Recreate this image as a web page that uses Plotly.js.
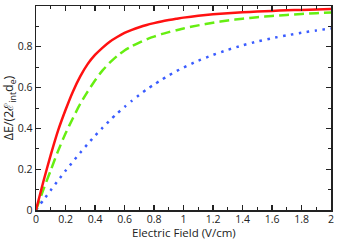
<!DOCTYPE html>
<html><head><meta charset="utf-8">
<script src="https://cdn.plot.ly/plotly-3.0.1.min.js"></script>
<style>html,body{margin:0;padding:0;background:#fff;}#chart{width:337px;height:241px;}</style>
</head><body><div id="chart"></div>
<script>
const fieldX = [0,0.05,0.1,0.15,0.2,0.25,0.3,0.35,0.4,0.45,0.5,0.55,0.6,0.65,0.7,0.75,0.8,0.85,0.9,0.95,1.0,1.1,1.2,1.3,1.4,1.5,1.6,1.7,1.8,1.9,2.0];
const redY   = [0,0.14,0.27,0.39,0.49,0.58,0.655,0.715,0.76,0.795,0.825,0.848,0.868,0.883,0.896,0.907,0.916,0.924,0.931,0.937,0.943,0.952,0.959,0.965,0.969,0.973,0.976,0.979,0.981,0.983,0.985];
const greenY = [0,0.10,0.195,0.29,0.375,0.45,0.52,0.58,0.635,0.683,0.722,0.755,0.782,0.803,0.821,0.837,0.85,0.862,0.872,0.881,0.89,0.905,0.918,0.929,0.938,0.945,0.951,0.956,0.961,0.965,0.968];
const blueY  = [0,0.049,0.097,0.145,0.192,0.237,0.281,0.323,0.364,0.402,0.439,0.473,0.505,0.536,0.564,0.591,0.615,0.638,0.66,0.68,0.698,0.732,0.76,0.785,0.807,0.826,0.842,0.856,0.869,0.88,0.89];
const xTitle = 'Electric Field (V/cm)';
const yTitle = 'ΔE/(2ℰ<sub>int</sub>d<sub>e</sub>)';

const fontFam = 'Open Sans, Liberation Sans, sans-serif';
const traces = [
  {x: fieldX, y: blueY, mode:'lines', line:{color:'#3a5cff', width:2.5, dash:'2.5px,5.5px', shape:'spline', smoothing:0.6}},
  {x: fieldX, y: greenY, mode:'lines', line:{color:'#66ee11', width:2.5, dash:'10px,5px', shape:'spline', smoothing:0.6}},
  {x: fieldX, y: redY, mode:'lines', line:{color:'#ff1111', width:2.5, shape:'spline', smoothing:0.6}},
  {x: [], y: [], xaxis:'x2', yaxis:'y2', mode:'lines'}
];
const axisCommon = {
  showgrid:false, zeroline:false, showline:true, linecolor:'#222', linewidth:1.5,
  ticks:'inside', ticklen:5, tickwidth:1.2, tickcolor:'#222',
  tickfont:{family:fontFam, size:10.5, color:'#222'},
  minor:{dtick:0.1, ticks:'inside', ticklen:3, tickwidth:1, tickcolor:'#222'}
};
const layout = {
  width:337, height:241, showlegend:false,
  margin:{l:36, r:6, t:6, b:31},
  paper_bgcolor:'#fff', plot_bgcolor:'#fff',
  xaxis: Object.assign({}, axisCommon, {range:[0,2], dtick:0.2, tick0:0, ticklabelstandoff:-1}),
  yaxis: Object.assign({}, axisCommon, {range:[0,1], dtick:0.2, tick0:0,
    title:{text:yTitle, standoff:3, font:{family:fontFam, size:12.5, color:'#222'}}}),
  xaxis2: Object.assign({}, axisCommon, {range:[0,2], dtick:0.2, tick0:0, overlaying:'x', side:'top', anchor:'y2', showticklabels:false}),
  yaxis2: Object.assign({}, axisCommon, {range:[0,1], dtick:0.2, tick0:0, overlaying:'y', side:'right', anchor:'x2', showticklabels:false}),
  annotations: [{text:xTitle, xref:'paper', yref:'paper', x:0.5, y:0, xanchor:'center', yanchor:'bottom', yshift:-31, borderpad:0,
    showarrow:false, font:{family:fontFam, size:11.5, color:'#222'}}]
};
Plotly.newPlot('chart', traces, layout, {staticPlot:true, displayModeBar:false});
</script></body></html>
